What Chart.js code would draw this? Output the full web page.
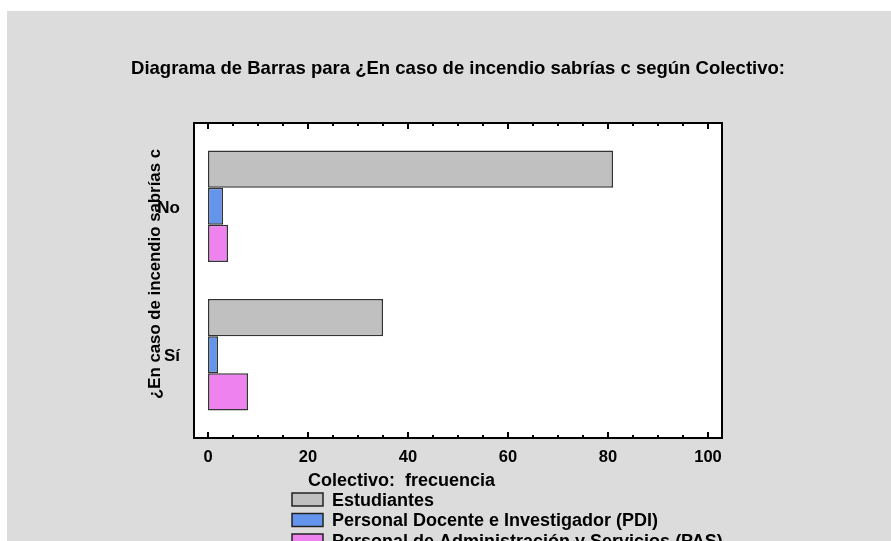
<!DOCTYPE html>
<html>
<head>
<meta charset="utf-8">
<script src="https://cdn.jsdelivr.net/npm/chart.js@4/dist/chart.umd.min.js"></script>
<style>
  html, body { margin: 0; padding: 0; background: #ffffff; }
  canvas { display: block; }
</style>
</head>
<body>
<canvas id="chart" width="891" height="541"></canvas>
<script>
// Data
const categories = ['No', 'Sí'];
const seriesNames = ['Estudiantes', 'Personal Docente e Investigador (PDI)', 'Personal de Administración y Servicios (PAS)'];
const estudiantes = [81, 35];
const pdi = [3, 2];
const pas = [4, 8];
const xTicks = [0, 20, 40, 60, 80, 100];

const colors = ['#c0c0c0', '#6495ed', '#ee82ee'];
const FONT = '"Liberation Sans", Arial, sans-serif';

// Frame, ticks, titles and legend drawn by hand, in the old statgraphics look
const decor = {
    id: 'decor',
    beforeDraw(chart) {
        const ctx = chart.ctx;
        const a = chart.chartArea;
        ctx.save();
        ctx.fillStyle = '#ffffff';
        ctx.fillRect(0, 0, chart.width, chart.height);
        ctx.fillStyle = '#dcdcdc';
        ctx.fillRect(7, 11, chart.width - 7, chart.height - 11);
        ctx.fillStyle = '#ffffff';
        ctx.fillRect(a.left, a.top - 9, a.right - a.left, a.bottom - a.top + 18);
        ctx.restore();
    },
    afterDraw(chart) {
        const ctx = chart.ctx;
        const a = chart.chartArea;
        const xs = chart.scales.x;
        const ys = chart.scales.y;
        const top = a.top - 9, bottom = a.bottom + 9;
        ctx.save();

        // frame
        ctx.strokeStyle = '#000000';
        ctx.lineWidth = 2;
        ctx.strokeRect(a.left, top, a.right - a.left, bottom - top);

        // ticks, inward on top and bottom
        for (let v = 0; v <= 100; v += 5) {
            const px = Math.round(xs.getPixelForValue(v));
            const len = v % 20 === 0 ? 6 : 3;
            ctx.beginPath();
            ctx.moveTo(px, top);
            ctx.lineTo(px, top + len);
            ctx.moveTo(px, bottom);
            ctx.lineTo(px, bottom - len);
            ctx.stroke();
        }

        // tick labels
        ctx.fillStyle = '#000000';
        ctx.font = 'bold 16.5px ' + FONT;
        ctx.textAlign = 'center';
        ctx.textBaseline = 'middle';
        xTicks.forEach(t => {
            ctx.fillText(String(t), xs.getPixelForValue(t), 457);
        });

        // category labels
        ctx.font = 'bold 17px ' + FONT;
        ctx.textAlign = 'right';
        categories.forEach((c, i) => {
            ctx.fillText(c, 180, ys.getPixelForValue(i) + 2);
        });

        // title
        ctx.textAlign = 'center';
        ctx.font = 'bold 18.5px ' + FONT;
        ctx.fillText('Diagrama de Barras para ¿En caso de incendio sabrías c según Colectivo:', 458, 69);

        // y axis title
        ctx.save();
        ctx.translate(155, 274);
        ctx.rotate(-Math.PI / 2);
        ctx.font = 'bold 16.8px ' + FONT;
        ctx.fillText('¿En caso de incendio sabrías c', 0, 0);
        ctx.restore();

        // legend
        ctx.font = 'bold 18px ' + FONT;
        ctx.textAlign = 'left';
        ctx.fillText('Colectivo:  frecuencia', 308, 481);
        chart.data.datasets.forEach((ds, i) => {
            const y = 500 + i * 20.5;
            ctx.fillStyle = ds.backgroundColor;
            ctx.fillRect(292, y - 7, 31, 13);
            ctx.strokeStyle = '#222222';
            ctx.lineWidth = 1.5;
            ctx.strokeRect(292, y - 7, 31, 13);
            ctx.fillStyle = '#000000';
            ctx.fillText(ds.label, 332, y + 1);
        });

        ctx.restore();
    }
};

new Chart(document.getElementById('chart'), {
    type: 'bar',
    data: {
        labels: categories,
        datasets: [
            { label: seriesNames[0], data: estudiantes, backgroundColor: colors[0] },
            { label: seriesNames[1], data: pdi, backgroundColor: colors[1] },
            { label: seriesNames[2], data: pas, backgroundColor: colors[2] }
        ].map(ds => Object.assign(ds, {
            borderColor: '#333333',
            borderWidth: 1.5,
            borderSkipped: false,
            categoryPercentage: 0.75,
            barPercentage: 1.0
        }))
    },
    options: {
        indexAxis: 'y',
        responsive: false,
        animation: false,
        layout: { padding: { left: 194, right: 169, top: 132, bottom: 112 } },
        plugins: {
            legend: { display: false },
            title: { display: false },
            tooltip: { enabled: false }
        },
        scales: {
            x: { type: 'linear', min: -2.8, max: 102.8, display: false },
            y: { type: 'category', display: false, offset: true }
        }
    },
    plugins: [decor]
});
</script>
</body>
</html>
